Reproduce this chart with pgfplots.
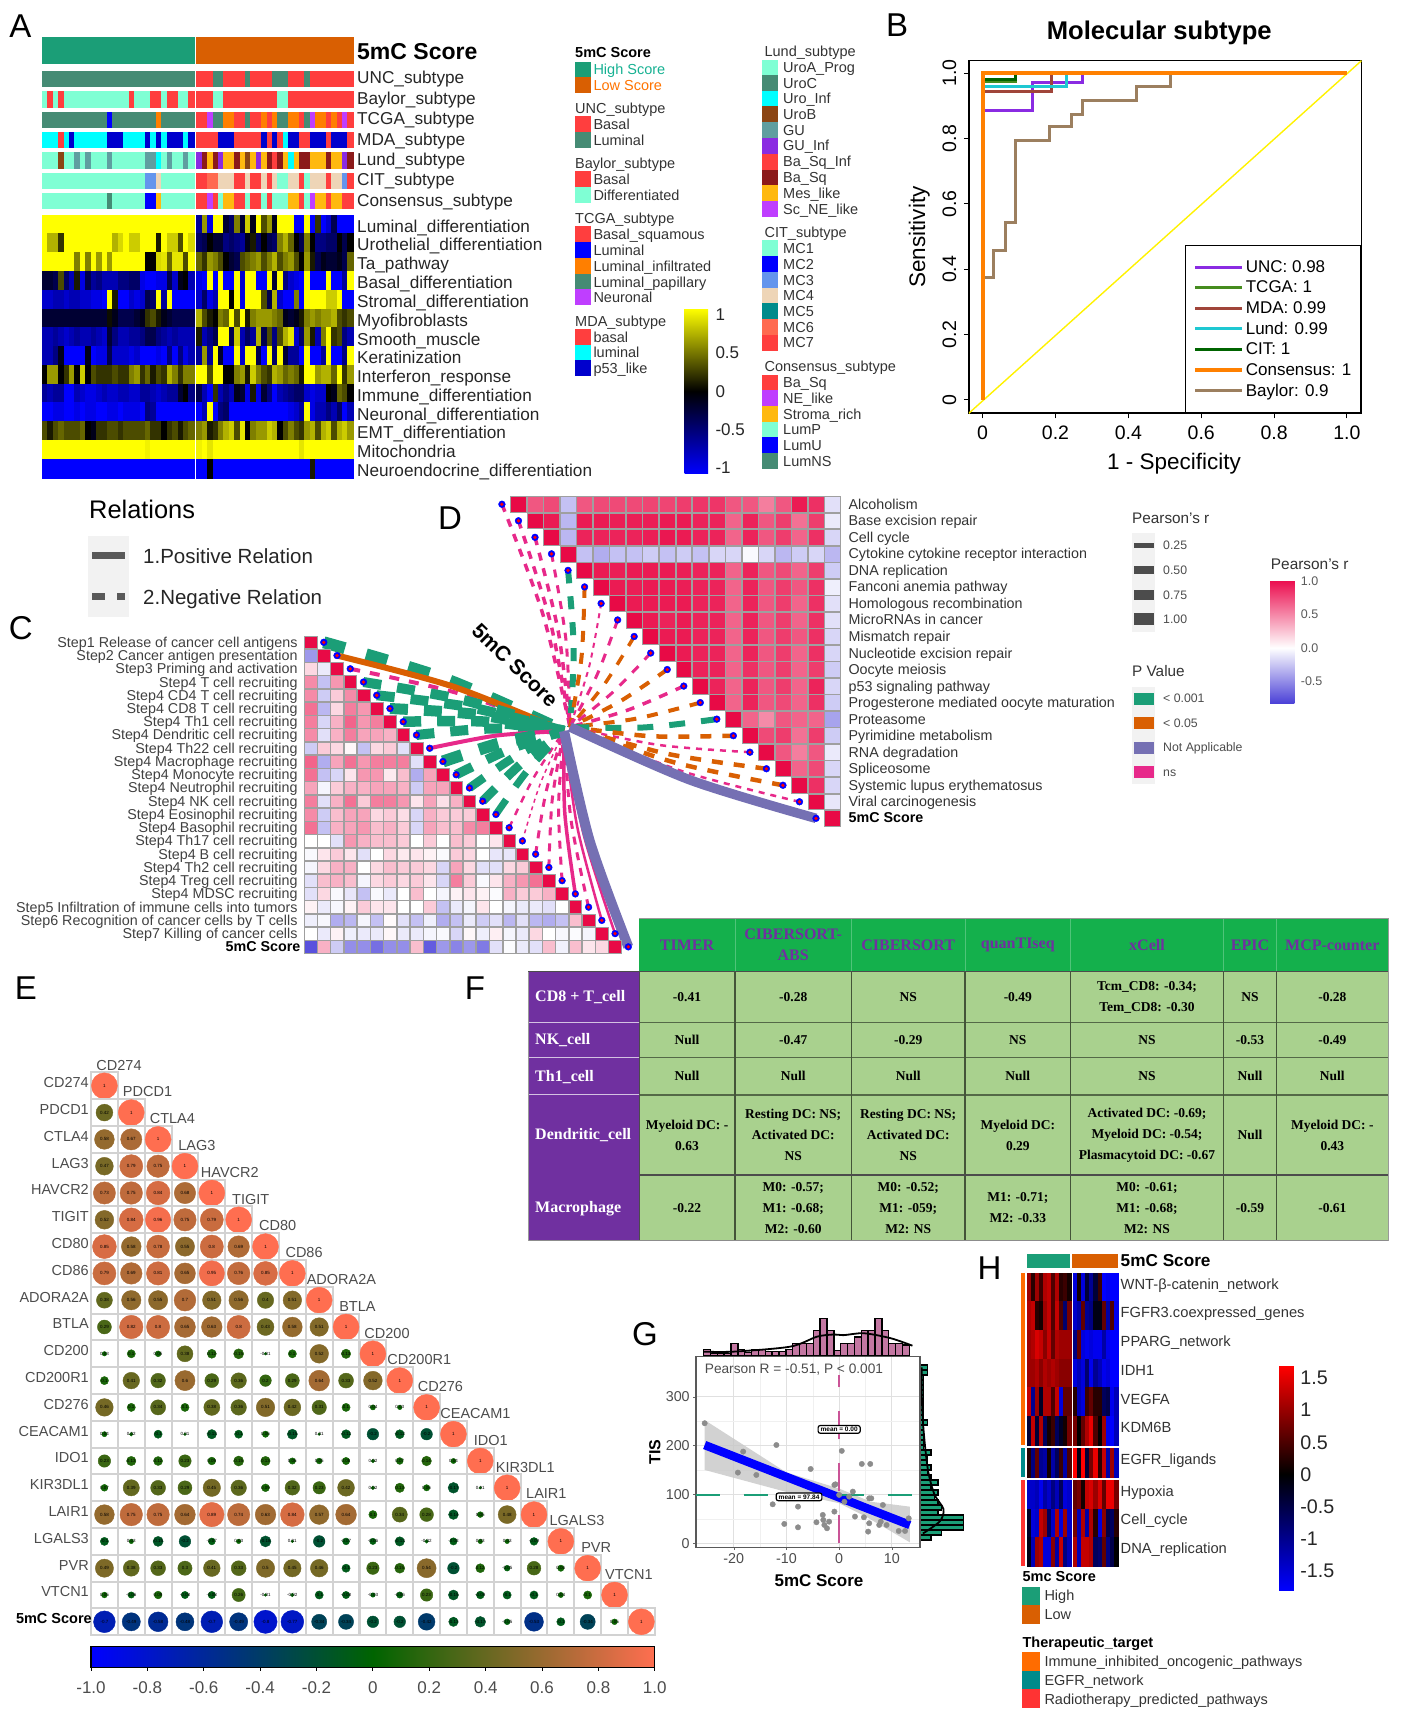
\documentclass[border=0pt]{standalone}
\usepackage{fontspec}
\setmainfont{Liberation Sans}
\newfontfamily\ser{Liberation Serif}
\usepackage{pgfplots}
\pgfplotsset{compat=1.18}
\usetikzlibrary{plotmarks}

% one pixel of the reference = 1pt here
\newcommand\fs[1]{\fontsize{#1}{#1}\selectfont}
\definecolor{grn}{HTML}{1B9E77}
\definecolor{org}{HTML}{D95F02}
\definecolor{prp}{HTML}{7570B3}
\definecolor{pnk}{HTML}{E7298A}
\definecolor{cRed}{HTML}{FF3E3E}
\definecolor{cTeal}{HTML}{458B74}
\definecolor{cAq}{HTML}{7FFFD4}
\definecolor{cBlue}{HTML}{0000FF}
\definecolor{cOr}{HTML}{FF7F00}
\definecolor{cPur}{HTML}{BF3EFF}
\definecolor{cCy}{HTML}{00FFFF}
\definecolor{cNavy}{HTML}{0000CD}
\definecolor{cBr}{HTML}{8B4513}
\definecolor{cGu}{HTML}{5F9EA0}
\definecolor{cVi}{HTML}{8A2BE2}
\definecolor{cDr}{HTML}{8B1A1A}
\definecolor{cGo}{HTML}{FFB90F}
\definecolor{cCo}{HTML}{6495ED}
\definecolor{cBi}{HTML}{EED5B7}
\definecolor{cDc}{HTML}{008B8B}
\definecolor{cCr}{HTML}{FF6A50}
\definecolor{tHead}{HTML}{14B04C}
\definecolor{tPur}{HTML}{7030A0}
\definecolor{tCell}{HTML}{A9D18E}
\definecolor{rMDA}{HTML}{A0453A}
\definecolor{rLund}{HTML}{1EC8D2}
\definecolor{rTCGA}{HTML}{468C1E}
\definecolor{rCIT}{HTML}{006400}
\definecolor{rBay}{HTML}{9C7F5F}

\pgfdeclareplotmark{cA}{\pgfpathrectangle{\pgfpoint{-2.72pt}{-9.4pt}}{\pgfpoint{5.44pt}{18.8pt}}\pgfusepathqfillstroke}
\pgfdeclareplotmark{cS}{\pgfpathrectangle{\pgfpoint{-2.72pt}{-7.65pt}}{\pgfpoint{5.44pt}{15.3pt}}\pgfusepathqfillstroke}
\pgfdeclareplotmark{cT}{\pgfpathrectangle{\pgfpoint{-2.72pt}{-13.15pt}}{\pgfpoint{5.44pt}{26.3pt}}\pgfusepathqfillstroke}
\pgfdeclareplotmark{cH}{\pgfpathrectangle{\pgfpoint{-2pt}{-14.35pt}}{\pgfpoint{4pt}{28.7pt}}\pgfusepathqfillstroke}

\pgfplotsset{
  colormap={cmA}{rgb255=(0,0,255) rgb255=(0,0,0) rgb255=(255,255,0)},
  colormap={cmP}{rgb255(0cm)=(60,50,215) rgb255(1cm)=(255,255,255) rgb255(1.85cm)=(236,35,90) rgb255(2cm)=(232,10,70)},
  colormap={cmPb}{rgb255(0cm)=(75,65,215) rgb255(0.83cm)=(255,255,255) rgb255(1.83cm)=(235,15,80)},
  colormap={cmE}{rgb255=(0,0,255) rgb255=(0,100,0) rgb255=(255,110,80)},
  colormap={cmH}{rgb255(0cm)=(0,0,255) rgb255(1.81cm)=(0,0,0) rgb255(3.5cm)=(255,0,0)},
  % categories: colour k is flat around position k
  colormap={cmS}{
    rgb255(0cm)=(255,62,62) rgb255(0.8cm)=(255,62,62)
    rgb255(1cm)=(69,139,116) rgb255(1.8cm)=(69,139,116)
    rgb255(2cm)=(127,255,212) rgb255(2.8cm)=(127,255,212)
    rgb255(3cm)=(0,0,255) rgb255(3.8cm)=(0,0,255)
    rgb255(4cm)=(255,127,0) rgb255(4.8cm)=(255,127,0)
    rgb255(5cm)=(191,62,255) rgb255(5.8cm)=(191,62,255)
    rgb255(6cm)=(0,255,255) rgb255(6.8cm)=(0,255,255)
    rgb255(7cm)=(0,0,205) rgb255(7.8cm)=(0,0,205)
    rgb255(8cm)=(139,69,19) rgb255(8.8cm)=(139,69,19)
    rgb255(9cm)=(95,158,160) rgb255(9.8cm)=(95,158,160)
    rgb255(10cm)=(138,43,226) rgb255(10.8cm)=(138,43,226)
    rgb255(11cm)=(139,26,26) rgb255(11.8cm)=(139,26,26)
    rgb255(12cm)=(255,185,15) rgb255(12.8cm)=(255,185,15)
    rgb255(13cm)=(100,149,237) rgb255(13.8cm)=(100,149,237)
    rgb255(14cm)=(238,213,183) rgb255(14.8cm)=(238,213,183)
    rgb255(15cm)=(0,139,139) rgb255(15.8cm)=(0,139,139)
    rgb255(16cm)=(255,106,80) rgb255(16.8cm)=(255,106,80)
    rgb255(17cm)=(27,158,119) rgb255(17.8cm)=(27,158,119)
    rgb255(18cm)=(217,95,2) rgb255(18.8cm)=(217,95,2)},
  box/.style n args={4}{at={(#1pt,1726pt-#2pt-#4pt)},anchor=south west,scale only axis,width=#3pt,height=#4pt},
  canvas/.style={box={0}{0}{1401}{1726},xmin=0,xmax=1401,ymin=0,ymax=1726,y dir=reverse,hide axis,clip=false},
  heat/.style={scatter,only marks,point meta=explicit,
    scatter/use mapped color={draw=mapped color,fill=mapped color},line width=.2pt},
  hmA/.style={heat,mark=cA},
  hmS/.style={heat,mark=cS},
  hmT/.style={heat,mark=cT},
  hmH/.style={heat,mark=cH},
  tri/.style={scatter,only marks,point meta=explicit,mark=square*,mark size=#1,
    scatter/use mapped color={draw=gray!75,fill=mapped color},line width=.6pt},
  gridE/.style={only marks,point meta=explicit,mark=square,mark size=13.4pt,
    mark options={draw=gray!35,line width=2pt}},
  bub/.style={scatter,only marks,point meta=explicit,mark=*,
    scatter/@pre marker code/.code={%
      \pgfplotscolormapdefinemappedcolor{\pgfplotspointmetatransformed}%
      \pgfmathsetmacro\rad{13*sqrt(abs(\pgfplotspointmetatransformed/500-1))}%
      \scope[mark size=\rad pt,draw=mapped color,fill=mapped color]},
    scatter/@post marker code/.code={\endscope}},
  lab/.style={only marks,point meta=explicit,nodes near coords,
    every node near coord/.append style={anchor=center,inner sep=0pt,font=\fs{4.5},text=black}},
}

\newcount\cc
% one row of a heat map: style, first column, row, values
\newcommand\cells[4]{%
  \def\pts{}\cc=#2\relax
  \pgfplotsforeachungrouped\v in {#4}{\edef\pts{\pts(\the\cc,#3)[\v]}\advance\cc by 1\relax}%
  \edef\tmp{\noexpand\addplot[#1] coordinates {\pts};}\tmp}

% text: x, y of its middle, anchor, size, text
\newcommand\tx[5]{\node[anchor=#3,inner sep=0pt,font=\fs{#4}] at ({(#1)*1pt},{1726pt-(#2)*1pt-0.35*(#4)*1pt}) {#5};}
\newcommand\sw[5]{\fill[#5] ({(#1)*1pt},{1726pt-(#2)*1pt}) rectangle ++({(#3)*1pt},{-(#4)*1pt});}
\newcommand\lgA[3]{\sw{575}{#1-7.85}{15.6}{15.7}{#2}\tx{593.3}{#1}{base west}{14.5}{\color{black!80}#3}}
\newcommand\lgB[3]{\sw{762}{#1-7.85}{15.6}{15.7}{#2}\tx{783}{#1}{base west}{14.5}{\color{black!80}#3}}
% curved link of panels C and D: style, from, to, bend
\newcommand\lnk[6]{%
  \pgfmathsetmacro\mx{(#2+#4)/2+#6*(#5-#3)}\pgfmathsetmacro\my{(#3+#5)/2-#6*(#4-#2)}%
  \addplot[smooth,line cap=butt,#1] coordinates {(#2,#3) (\mx,\my) (#4,#5)};}
\newcommand\clink[2]{\pgfmathsetmacro\xa{303.9+13.24*(#1+1.5)}\pgfmathsetmacro\ya{635.7+13.24*(#1+.5)}\lnk{#2}{\xa}{\ya}{564}{731}{0.03}}
\newcommand\dlink[2]{\pgfmathsetmacro\xa{510.2+16.53*(#1-.5)}\pgfmathsetmacro\ya{496+16.53*(#1+.5)}\lnk{#2}{\xa}{\ya}{570}{727}{0.03}}
% stand-alone colour bar
\newcommand\cbar[6]{%
  \begin{axis}[box={#1}{#2}{1}{1},hide axis,xmin=0,xmax=1,ymin=0,ymax=1,colormap name=#3,
    point meta min=#4,point meta max=#5,colorbar,#6]
  \addplot[draw=none,forget plot] coordinates {(0,0)};
  \end{axis}}
\newcommand\tc[3]{\node[align=center,inner sep=0pt,font=\ser\bfseries\fontsize{13.5}{21}\selectfont,text=black] at ({(#1)*1pt},{1726pt-(#2)*1pt}) {#3};}
\newcommand\Ln[5]{\draw[#5] ({(#1)*1pt},{1726pt-(#2)*1pt}) -- ({(#3)*1pt},{1726pt-(#4)*1pt});}

\begin{document}
\begin{tikzpicture}
\useasboundingbox (0,0) rectangle (1401pt,1726pt);

% ---------- panel letters
\tx{20.5}{26}{base}{33}{A}\tx{897}{25}{base}{33}{B}\tx{20.7}{628}{base}{33}{C}\tx{450}{518}{base}{33}{D}
\tx{26}{988}{base}{33}{E}\tx{475}{988}{base}{33}{F}\tx{645}{1334}{base}{33}{G}\tx{989.5}{1268}{base}{33}{H}

% ---------- A annotation strips
\begin{axis}[box={42}{37}{152}{171.3},xmin=-.5,xmax=27.5,ymin=37,ymax=208.3,y dir=reverse,hide axis,clip=false,
  colormap name=cmS,point meta min=-.4,point meta max=18.4]
\cells{hmT}{0}{50.15}{17,17,17,17,17,17,17,17,17,17,17,17,17,17,17,17,17,17,17,17,17,17,17,17,17,17,17,17}
\cells{hmS}{0}{78.65}{1,1,1,1,1,1,1,1,1,1,1,1,1,1,1,1,1,1,1,1,1,1,1,1,1,1,1,1}
\cells{hmS}{0}{99}{2,0,2,0,2,2,2,2,2,2,2,2,2,2,2,2,0,2,2,2,0,0,2,0,0,2,2,0}
\cells{hmS}{0}{119.35}{1,1,1,1,1,1,1,1,1,1,1,1,3,1,1,1,1,1,1,1,1,4,1,1,1,1,1,1}
\cells{hmS}{0}{139.65}{6,6,6,0,6,7,6,6,6,6,6,6,7,7,7,6,6,6,6,7,6,7,6,7,7,7,6,7}
\cells{hmS}{0}{160}{2,2,2,8,2,2,9,2,9,2,2,2,9,2,2,2,2,2,2,9,9,6,2,9,2,2,9,2}
\cells{hmS}{0}{180.35}{2,2,2,2,2,2,2,2,2,2,2,2,2,2,2,2,2,2,2,13,13,14,2,2,2,2,2,2}
\cells{hmS}{0}{200.65}{2,2,2,2,2,2,2,2,2,2,2,2,1,2,2,2,2,2,2,3,3,12,2,2,2,2,2,2}
\end{axis}
\begin{axis}[box={196.5}{37}{156.5}{171.3},xmin=-.5,xmax=28.5,ymin=37,ymax=208.3,y dir=reverse,hide axis,clip=false,
  colormap name=cmS,point meta min=-.4,point meta max=18.4]
\cells{hmT}{0}{50.15}{18,18,18,18,18,18,18,18,18,18,18,18,18,18,18,18,18,18,18,18,18,18,18,18,18,18,18,18,18}
\cells{hmS}{0}{78.65}{0,0,0,1,1,0,0,0,0,1,0,0,0,0,1,1,1,0,0,0,1,0,0,0,0,0,0,0,0}
\cells{hmS}{0}{99}{0,0,0,2,2,0,0,0,0,0,0,0,0,0,0,2,2,0,0,0,0,0,0,0,0,0,0,0,0}
\cells{hmS}{0}{119.35}{0,0,5,1,1,4,4,0,0,1,0,0,4,0,4,1,1,4,4,0,1,5,4,4,0,4,0,5,0}
\cells{hmS}{0}{139.65}{0,0,0,0,7,7,7,0,0,0,0,0,7,0,7,0,6,7,7,0,0,7,7,7,0,7,7,7,0}
\cells{hmS}{0}{160}{10,11,12,11,10,12,12,11,12,8,12,10,12,11,0,11,12,6,12,11,11,12,12,12,11,12,12,10,11}
\cells{hmS}{0}{180.35}{0,0,16,16,14,14,14,0,0,14,0,0,14,0,14,2,2,14,14,0,2,14,14,14,0,14,14,13,0}
\cells{hmS}{0}{200.65}{0,0,5,0,2,12,12,0,0,2,0,0,2,0,2,2,2,12,12,0,2,5,12,12,0,12,12,0,0}
\end{axis}

% ---------- A heat map
\begin{axis}[box={42}{214.7}{152}{263},xmin=-.5,xmax=27.5,ymin=-.5,ymax=13.5,y dir=reverse,hide axis,clip=false,
  colormap name=cmA,point meta min=-1,point meta max=1]
\cells{hmA}{0}{0}{1,1,1,1,1,1,1,1,1,1,1,1,1,1,1,1,1,1,1,1,1,1,1,1,1,1,1,1}
\cells{hmA}{0}{1}{1,.7,.7,.2,1,1,1,1,1,1,1,1,1,.7,.85,1,.8,.8,1,1,1,.1,1,.8,.8,.3,1,.85}
\cells{hmA}{0}{2}{1,1,1,1,1,1,.5,1,.5,1,.6,1,.6,1,1,1,1,1,1,0,0,.85,.9,.4,.9,.9,.3,1}
\cells{hmA}{0}{3}{-.2,-.2,-.3,.3,-.4,-.7,.1,-.9,-.3,-.6,-.5,-.7,-.7,-.7,-.5,-.5,-.4,-.4,-.9,-1,-1,-.9,-.9,-.3,-.8,-.1,0,-.7}
\cells{hmA}{0}{4}{-.8,-.8,-.7,-.7,-.8,-.7,-.7,-.8,-.8,-.9,-.9,-1,1,.1,-1,-1,-.8,-.9,-.8,-.3,-.4,1,-.6,1,-1,-1,-1,-1}
\cells{hmA}{0}{5}{-.2,-.2,-.2,-.2,-.2,-.2,-.2,-.2,-.2,-.2,-.2,-.2,.05,-.1,-.3,-.3,-.3,-.2,-.1,.2,.3,.1,-.1,-.2,-.3,-.3,-.3,-.3}
\cells{hmA}{0}{6}{-.7,-.7,-.6,-.7,-.8,-.7,-.6,-.7,-.7,-.6,-.7,-.8,-.2,-.5,-.7,-.7,-.6,-.6,-.5,-.3,-.3,-.5,-.6,-.7,-.6,-.7,-.7,-.7}
\cells{hmA}{0}{7}{-.7,-.7,-.5,-.1,-1,-1,-1,-1,-.1,-1,-.9,-.9,-.3,-.8,-.8,-.8,-.9,-.8,-1,-1,-1,-.9,-1,-.5,-1,-.5,-.9,-.7}
\cells{hmA}{0}{8}{0,.6,.6,0,.2,.6,0,.8,0,.3,.2,.2,.2,.3,.2,.2,.5,.6,.2,.4,.1,.3,.2,.7,.5,.2,.5,.5}
\cells{hmA}{0}{9}{-.6,-.7,-.6,-.6,-1,-1,-.7,-.8,-.9,-.9,-.8,-.7,-.8,-.8,-.7,-.7,-.8,-.8,-.6,-.6,-.7,-.8,-.7,-.6,-.6,-.2,0,-.5}
\cells{hmA}{0}{10}{-1,-1,-.9,-.9,-1,-1,-.9,-1,-.9,-.9,-1,-1,-.9,-.9,-1,-.9,-.9,-.9,-1,-.5,-.6,-1,-1,-1,-1,-1,-1,-1}
\cells{hmA}{0}{11}{.3,.1,.3,.4,.3,.3,.3,.4,0,-.1,.2,.2,.3,.3,.2,.3,.3,.3,.3,.4,.2,.2,0,.2,.3,.1,.3,.4}
\cells{hmA}{0}{12}{1,1,1,1,1,1,1,1,1,1,1,1,1,1,1,1,1,1,1,.95,1,1,1,1,1,1,1,1}
\cells{hmA}{0}{13}{-1,-1,-1,-1,-1,-1,-1,-1,-1,-1,-1,-1,-1,-1,-1,-1,-1,-1,-1,-1,-1,-1,-1,-1,-1,-1,-1,-1}
\end{axis}
\begin{axis}[box={196.5}{214.7}{156.5}{263},xmin=-.5,xmax=28.5,ymin=-.5,ymax=13.5,y dir=reverse,hide axis,clip=false,
  colormap name=cmA,point meta min=-1,point meta max=1]
\cells{hmA}{0}{0}{-.6,.6,-.9,1,1,-.2,-.4,.5,-.2,.8,-.1,1,.3,.6,-.1,1,1,1,-1,-1,1,-1,.2,-1,-.8,-.3,-1,-1,-1}
\cells{hmA}{0}{1}{-.4,-.3,0,-.2,-.2,-.5,-.4,-.5,-.6,-.1,.1,-.4,0,-.3,-.4,.5,.7,.4,0,-.3,.5,0,-.5,-.5,-.4,-.4,0,-.3,0}
\cells{hmA}{0}{2}{.4,.2,.6,.5,.3,0,-.2,-.3,.3,.4,.5,.6,.3,.5,.7,.3,.5,.6,.3,0,.6,.1,-.3,-.1,-.2,-.2,-.1,-.3,.4}
\cells{hmA}{0}{3}{-.9,-1,1,-1,1,-1,-1,1,-.8,1,1,-1,-1,1,-.2,1,-.5,-.8,-.9,-1,1,-1,-1,-1,1,-1,-1,-.6,1}
\cells{hmA}{0}{4}{-.8,-.4,-.9,-.7,1,1,0,1,-.9,1,1,1,.3,-.3,.7,-.8,-1,-1,.5,-1,1,1,1,1,.8,.8,1,-1,-1}
\cells{hmA}{0}{5}{.7,.3,.1,0,.5,.4,1,.3,1,.1,.5,.6,.6,.6,.5,.4,-.1,-.2,-.1,.1,.5,.6,.5,.6,.6,.7,.3,.2,.3}
\cells{hmA}{0}{6}{.1,-.7,-.5,-.3,1,1,-.3,.8,-.7,-.4,-.6,.7,-.3,.3,-.5,.3,.7,.9,-.8,-.4,.6,.1,-.7,.5,1,.2,.3,-.5,-.7}
\cells{hmA}{0}{7}{-.6,.6,-.6,1,-.2,-1,-1,1,-.8,1,1,-.3,-1,1,-.4,1,-.2,-.6,-.6,-1,1,-1,-1,-.6,1,-1,-1,-.5,1}
\cells{hmA}{0}{8}{1,1,.3,1,1,0,0,.5,.6,.1,.8,.5,.3,.2,.7,.6,.4,.5,.4,.1,1,1,.6,.7,.7,.4,1,.2,.6}
\cells{hmA}{0}{9}{-.3,-.7,-1,.2,-.7,-.5,-.7,-.1,-.2,-.9,.1,-.9,-.2,-.5,-1,-.7,-.6,-.5,-.4,-.4,-.8,-.9,-.8,-.8,0,-.1,.4,.3,0}
\cells{hmA}{0}{10}{-1,-.7,1,-1,-.5,-.4,-1,-1,-1,-1,-1,-1,-1,-1,-1,-1,-1,-.9,-.8,-.6,1,-.9,-.7,-.7,-.5,-.7,-.4,-1,-.7}
\cells{hmA}{0}{11}{.5,.6,.1,.2,.5,.7,.8,.3,.9,0,.5,.6,.6,.8,.7,0,.3,.5,.3,.2,.6,.7,.3,.7,.8,.3,.7,.8,.6}
\cells{hmA}{0}{12}{.95,1,.9,1,1,1,1,1,1,1,1,1,1,1,1,1,1,1,1,.9,1,1,1,1,1,1,1,1,1}
\cells{hmA}{0}{13}{-1,-1,0,-1,-1,-1,-1,-1,-1,-1,-1,-1,-1,-1,-1,-1,-1,-1,-1,-1,-1,.1,-1,-1,-1,-1,-1,-1,-1}
\end{axis}

\tx{357}{51}{base west}{23}{\bfseries 5mC Score}
\foreach \y/\t in {78/UNC,99/Baylor,119/TCGA,139.5/MDA,160/Lund,180/CIT,200.5/Consensus}{\tx{357}{\y}{base west}{17.2}{\color{black!85}\t\_subtype}}
\foreach \y/\t in {226.7/Luminal\_differentiation,245/Urothelial\_differentiation,264/Ta\_pathway,282.7/Basal\_differentiation,301.3/Stromal\_differentiation,320.3/Myofibroblasts,339/Smooth\_muscle,357.7/Keratinization,376.7/Interferon\_response,395.3/Immune\_differentiation,414/Neuronal\_differentiation,432.7/EMT\_differentiation,451.7/Mitochondria,470.7/Neuroendocrine\_differentiation}{\tx{357}{\y}{base west}{17.2}{\color{black!85}\t}}

% legends of A
\tx{575}{52.7}{base west}{14.5}{\bfseries 5mC Score}
\lgA{69.5}{grn}{\color{grn!80!cyan}High Score}\lgA{85.3}{org}{\color{orange!90!red}Low Score}
\tx{575}{108}{base west}{14.5}{\color{black!80}UNC\_subtype}
\lgA{124.3}{cRed}{Basal}\lgA{140}{cTeal}{Luminal}
\tx{575}{163.3}{base west}{14.5}{\color{black!80}Baylor\_subtype}
\lgA{179.3}{cRed}{Basal}\lgA{195}{cAq}{Differentiated}
\tx{575}{218.7}{base west}{14.5}{\color{black!80}TCGA\_subtype}
\lgA{234.3}{cRed}{Basal\_squamous}\lgA{250}{cBlue}{Luminal}\lgA{266}{cOr}{Luminal\_infiltrated}\lgA{282}{cTeal}{Luminal\_papillary}\lgA{297.3}{cPur}{Neuronal}
\tx{575}{321.3}{base west}{14.5}{\color{black!80}MDA\_subtype}
\lgA{337}{cRed}{basal}\lgA{352.7}{cCy}{luminal}\lgA{368.3}{cNavy}{p53\_like}
\tx{764.4}{51.7}{base west}{14.5}{\color{black!80}Lund\_subtype}
\lgB{67.7}{cAq}{UroA\_Prog}\lgB{83}{cTeal}{UroC}\lgB{98.7}{cCy}{Uro\_Inf}\lgB{114.3}{cBr}{UroB}\lgB{130}{cGu}{GU}\lgB{145.7}{cVi}{GU\_Inf}\lgB{161.7}{cRed}{Ba\_Sq\_Inf}\lgB{177.7}{cDr}{Ba\_Sq}\lgB{193.3}{cGo}{Mes\_like}\lgB{209}{cPur}{Sc\_NE\_like}
\tx{764.4}{232.7}{base west}{14.5}{\color{black!80}CIT\_subtype}
\lgB{248.3}{cAq}{MC1}\lgB{264.3}{cBlue}{MC2}\lgB{280}{cCo}{MC3}\lgB{295.7}{cBi}{MC4}\lgB{311.3}{cDc}{MC5}\lgB{327}{cCr}{MC6}\lgB{342.7}{cRed}{MC7}
\tx{764.4}{366.7}{base west}{14.5}{\color{black!80}Consensus\_subtype}
\lgB{382.7}{cRed}{Ba\_Sq}\lgB{398.3}{cPur}{NE\_like}\lgB{414}{cGo}{Stroma\_rich}\lgB{429.7}{cAq}{LumP}\lgB{445.3}{cBlue}{LumU}\lgB{461.3}{cTeal}{LumNS}

\cbar{684.5}{472.7}{cmA}{-1.08}{1.08}{colorbar/width=23.5pt,colorbar style={at={(parent axis.south west)},anchor=south west,xshift=-8.536pt,
  scale only axis,width=23.5pt,height=165pt,ytick={-1,-.5,0,.5,1},yticklabels={-1,-0.5,0,0.5,1},
  yticklabel style={font=\fs{17},text=black!85,anchor=west,xshift=4pt},tick style={draw=none},axis line style={draw=none}}}

% ---------- B
\begin{axis}[box={968.8}{60.7}{392.7}{352.6},xmin=-.038,xmax=1.04,ymin=-.0407,ymax=1.0386,
  axis line style={line width=1.6pt},
  xtick={0,.2,.4,.6,.8,1},xticklabels={0,0.2,0.4,0.6,0.8,1.0},
  ytick={0,.2,.4,.6,.8,1},yticklabels={0,0.2,0.4,0.6,0.8,1.0},
  tick align=outside,xtick pos=bottom,ytick pos=left,major tick length=5pt,tick style={line width=1pt,black},
  xticklabel style={font=\fs{19.5},yshift=-4.5pt},
  yticklabel style={font=\fs{19.5},rotate=90,anchor=south,xshift=0pt,yshift=4pt},
  title={Molecular subtype},title style={font=\fs{25.6}\bfseries,at={(axis description cs:.485,1.082)},anchor=center,yshift=-7.5pt},
  xlabel={1 - Specificity},xlabel style={font=\fs{22.5},at={(axis description cs:.5225,-.14)},anchor=center,yshift=-1.5pt},
  ylabel={Sensitivity},ylabel style={font=\fs{22.5},at={(axis description cs:-.126,.5)},anchor=center},
  legend image code/.code={\path (-14pt,0pt) -- (0pt,0pt);\draw[#1] (0pt,0pt) -- (33pt,0pt);},
  legend style={at={(1,0)},anchor=south east,draw=black,line width=1.3pt,font=\fs{17},row sep=4.1pt,
    inner xsep=8pt,inner ysep=13.4pt,cells={anchor=west},nodes={inner sep=1.5pt}},
]
\addplot[yellow,line width=1.4pt,forget plot] coordinates {(-.038,-.0407) (1.04,1.0386)};
\addplot[cVi,line width=3pt] coordinates {(0,.885) (.138,.885) (.138,.972) (.275,.972) (.275,1) (1,1)};
\addlegendentry{UNC: 0.98}
\addplot[rTCGA,line width=3pt] coordinates {(0,.975) (.09,.975) (.09,1) (1,1)};
\addlegendentry{TCGA: 1}
\addplot[rMDA,line width=3pt] coordinates {(0,.945) (.19,.945) (.19,1) (1,1)};
\addlegendentry{MDA: 0.99}
\addplot[rLund,line width=3pt] coordinates {(0,.96) (.23,.96) (.23,1) (1,1)};
\addlegendentry{Lund: 0.99}
\addplot[rCIT,line width=3pt] coordinates {(0,.98) (.09,.98) (.09,1) (1,1)};
\addlegendentry{CIT: 1}
\addplot[rBay,line width=3pt,forget plot] coordinates {(0,.374) (.03,.374) (.03,.459) (.062,.459) (.062,.544) (.09,.544) (.09,.793) (.184,.793) (.184,.836) (.243,.836) (.243,.874) (.275,.874) (.275,.918) (.422,.918) (.422,.959) (.515,.959) (.515,1) (1,1)};
\addplot[orange,line width=4pt] coordinates {(0,0) (0,1) (1,1)};
\addlegendentry{Consensus: 1}
\addlegendimage{rBay,line width=3pt}
\addlegendentry{Baylor: 0.9}
\end{axis}

% ---------- Relations
\tx{89}{510}{base west}{25.4}{Relations}
\sw{88}{535.7}{40.5}{81}{black!5}
\Ln{92}{555.7}{125}{555.7}{black!65,line width=6.5pt}
\Ln{92}{596.7}{125}{596.7}{black!65,line width=6.5pt,dash pattern=on 12.5pt off 12.5pt}
\tx{143}{556.7}{base west}{20.5}{\color{black!85}1.Positive Relation}
\tx{143}{597.7}{base west}{20.5}{\color{black!85}2.Negative Relation}

% ---------- links of C and D
\begin{axis}[canvas]
\dlink{0}{pnk,line width=3.5pt,dash pattern=on 8pt off 8pt}
\dlink{1}{pnk,line width=3.5pt,dash pattern=on 8pt off 8pt}
\dlink{2}{pnk,line width=3.5pt,dash pattern=on 8pt off 8pt}
\dlink{3}{pnk,line width=3pt,dash pattern=on 8pt off 8pt}
\dlink{4}{grn,line width=6pt,dash pattern=on 13pt off 13pt}
\dlink{5}{org,line width=4pt,dash pattern=on 11pt off 11pt}
\dlink{6}{pnk,line width=2pt,dash pattern=on 5pt off 5pt}
\dlink{7}{pnk,line width=3pt,dash pattern=on 9pt off 9pt}
\dlink{8}{org,line width=3.5pt,dash pattern=on 11pt off 11pt}
\dlink{9}{pnk,line width=3pt,dash pattern=on 9pt off 9pt}
\dlink{10}{org,line width=4pt,dash pattern=on 11pt off 11pt}
\dlink{11}{pnk,line width=3.5pt,dash pattern=on 9pt off 9pt}
\dlink{12}{org,line width=4pt,dash pattern=on 11pt off 11pt}
\dlink{13}{grn,line width=6pt,dash pattern=on 16pt off 16pt}
\dlink{14}{org,line width=4.5pt,dash pattern=on 11pt off 11pt}
\dlink{15}{pnk,line width=2.5pt,dash pattern=on 6pt off 6pt}
\dlink{16}{org,line width=4.5pt,dash pattern=on 11pt off 11pt}
\dlink{17}{org,line width=4.5pt,dash pattern=on 11pt off 11pt}
\dlink{18}{pnk,line width=2.5pt,dash pattern=on 6pt off 6pt}
\dlink{19}{prp,line width=9.5pt}
\clink{2}{pnk,line width=4pt,dash pattern=on 10pt off 10pt}
\clink{14}{pnk,line width=2.5pt,dash pattern=on 7pt off 7pt}
\clink{15}{pnk,line width=1.5pt,dash pattern=on 4pt off 4pt}
\clink{16}{pnk,line width=3pt,dash pattern=on 8pt off 8pt}
\clink{17}{pnk,line width=3pt,dash pattern=on 8pt off 8pt}
\clink{18}{pnk,line width=3pt,dash pattern=on 8pt off 8pt}
\clink{19}{pnk,line width=3.5pt}
\clink{20}{pnk,line width=3pt,dash pattern=on 8pt off 8pt}
\clink{21}{pnk,line width=2.5pt}
\clink{22}{pnk,line width=2.5pt}
\clink{0}{grn,line width=12pt,dash pattern=on 22pt off 22pt}
\clink{1}{org,line width=6pt}
\clink{3}{grn,line width=10pt,dash pattern=on 18pt off 16pt}
\clink{4}{grn,line width=10pt,dash pattern=on 18pt off 16pt}
\clink{5}{grn,line width=11pt,dash pattern=on 18pt off 16pt}
\clink{6}{grn,line width=10.5pt,dash pattern=on 18pt off 16pt}
\clink{7}{grn,line width=10pt,dash pattern=on 18pt off 16pt}
\clink{8}{pnk,line width=4pt}
\clink{9}{grn,line width=12pt,dash pattern=on 20pt off 18pt}
\clink{10}{grn,line width=9.5pt,dash pattern=on 18pt off 16pt}
\clink{11}{grn,line width=8.5pt,dash pattern=on 18pt off 16pt}
\clink{12}{grn,line width=9pt,dash pattern=on 18pt off 16pt}
\clink{13}{grn,line width=7pt,dash pattern=on 18pt off 16pt}
\clink{23}{prp,line width=10pt}
\end{axis}

% ---------- C
\begin{axis}[box={303.9}{635.7}{317.8}{317.8},xmin=-.5,xmax=23.5,ymin=-.5,ymax=23.5,y dir=reverse,hide axis,clip=false,
  colormap name=cmP,point meta min=-1,point meta max=1]
\cells{tri=6.35pt}{0}{0}{1}
\cells{tri=6.35pt}{0}{1}{-.5,1}
\cells{tri=6.35pt}{0}{2}{.15,-.1,1}
\cells{tri=6.35pt}{0}{3}{.45,-.3,.4,1}
\cells{tri=6.35pt}{0}{4}{.45,-.25,.2,.45,1}
\cells{tri=6.35pt}{0}{5}{.55,-.35,.15,.5,.4,1}
\cells{tri=6.35pt}{0}{6}{.5,-.2,.3,.6,.4,.5,1}
\cells{tri=6.35pt}{0}{7}{.45,-.15,.3,.5,.35,.35,.3,1}
\cells{tri=6.35pt}{0}{8}{-.25,.2,.15,.03,-.3,.15,.2,-.15,1}
\cells{tri=6.35pt}{0}{9}{.6,-.4,.35,.55,.4,.5,.5,.5,-.15,1}
\cells{tri=6.35pt}{0}{10}{.55,-.3,-.2,.1,.4,.4,.08,.25,-.4,.35,1}
\cells{tri=6.35pt}{0}{11}{.35,-.05,.2,.3,.3,.35,.35,.3,-.25,.35,.35,1}
\cells{tri=6.35pt}{0}{12}{.5,-.15,.3,.55,.2,.5,.5,.4,.1,.35,.12,.3,1}
\cells{tri=6.35pt}{0}{13}{.45,-.25,.25,.35,.35,.15,.2,.13,-.2,.3,.2,.2,.2,1}
\cells{tri=6.35pt}{0}{14}{.55,-.3,.3,.35,.4,.25,.3,.2,-.2,.35,.25,.25,.45,.5,1}
\cells{tri=6.35pt}{0}{15}{0,0,-.15,.4,.3,.25,.25,.2,0,.2,0,.25,.2,0,.1,1}
\cells{tri=6.35pt}{0}{16}{-.03,.1,.2,.1,-.15,0,.15,.08,.1,.05,-.02,.2,.15,0,-.12,-.12,1}
\cells{tri=6.35pt}{0}{17}{-.05,.15,.3,.3,0,.15,.25,.2,.2,.15,-.2,.35,.15,-.15,-.15,.15,.2,1}
\cells{tri=6.35pt}{0}{18}{-.15,.25,.3,.25,-.05,.15,.2,.15,.2,.1,-.2,.5,.2,-.03,.1,.3,.4,.55,1}
\cells{tri=6.35pt}{0}{19}{-.15,.15,-.03,-.12,-.3,-.03,-.1,0,.25,0,-.05,.05,.1,.05,-.02,.3,.2,.2,.3,1}
\cells{tri=6.35pt}{0}{20}{.05,-.1,-.04,.05,.2,.1,.1,0,0,.2,-.3,-.1,-.05,.1,0,-.05,-.1,-.1,-.15,0,1}
\cells{tri=6.35pt}{0}{21}{-.08,-.04,-.4,-.35,-.05,-.3,.02,-.15,-.3,-.08,-.4,-.3,-.1,-.25,-.15,-.35,-.15,-.35,-.4,-.3,.25,1}
\cells{tri=6.35pt}{0}{22}{0,-.1,.05,-.08,-.1,-.1,.03,-.1,-.1,-.05,-.03,-.2,.03,-.08,.06,-.05,-.1,.15,0,-.04,-.02,-.05,1}
\cells{tri=6.35pt}{0}{23}{-.85,.3,-.25,-.55,-.55,-.7,-.55,-.55,.25,-.8,-.5,-.6,-.5,-.65,-.15,-.02,-.1,-.15,.25,-.07,.25,.1,.15,1}
\addplot[only marks,mark=*,mark size=3.4pt,blue] coordinates {(1,0)(2,1)(3,2)(4,3)(5,4)(6,5)(7,6)(8,7)(9,8)(10,9)(11,10)(12,11)(13,12)(14,13)(15,14)(16,15)(17,16)(18,17)(19,18)(20,19)(21,20)(22,21)(23,22)(24,23)};
\addplot[only marks,mark=*,mark size=1.5pt,red] coordinates {(1,0)(2,1)(3,2)(4,3)(5,4)(6,5)(7,6)(8,7)(9,8)(10,9)(11,10)(12,11)(13,12)(14,13)(15,14)(16,15)(17,16)(18,17)(19,18)(20,19)(21,20)(22,21)(23,22)(24,23)};
\end{axis}
\foreach \i/\t in {0/Step1 Release of cancer cell antigens,1/Step2 Cancer antigen presentation,2/Step3 Priming and activation,3/Step4 T cell recruiting,4/Step4 CD4 T cell recruiting,5/Step4 CD8 T cell recruiting,6/Step4 Th1 cell recruiting,7/Step4 Dendritic cell recruiting,8/Step4 Th22 cell recruiting,9/Step4 Macrophage recruiting,10/Step4 Monocyte recruiting,11/Step4 Neutrophil recruiting,12/Step4 NK cell recruiting,13/Step4 Eosinophil recruiting,14/Step4 Basophil recruiting,15/Step4 Th17 cell recruiting,16/Step4 B cell recruiting,17/Step4 Th2 cell recruiting,18/Step4 Treg cell recruiting,19/Step4 MDSC recruiting,20/Step5 Infiltration of immune cells into tumors,21/Step6 Recognition of cancer cells by T cells,22/Step7 Killing of cancer cells}{\tx{297.7}{635.7+13.24*(\i+.5)}{base east}{14.3}{\color{black!75}\t}}
\tx{300.5}{946.7}{base east}{14.3}{\bfseries 5mC Score}
\node[rotate=-44,inner sep=0pt,font=\fs{21}\bfseries] at (515pt,{1726pt-665pt}) {5mC Score};

% ---------- D
\begin{axis}[box={510.2}{496}{330.6}{330.6},xmin=-.5,xmax=19.5,ymin=-.5,ymax=19.5,y dir=reverse,hide axis,clip=false,
  colormap name=cmP,point meta min=-1,point meta max=1]
\cells{tri=7.97pt}{0}{0}{1,.65,.7,-.3,.65,.7,.7,.7,.72,.72,.75,.78,.78,.65,.65,.5,.65,.9,.8,-.15}
\cells{tri=7.97pt}{1}{1}{1,.9,-.35,.9,.9,.88,.88,.88,.9,.9,.85,.85,.6,.85,.65,.75,.55,.75,-.1}
\cells{tri=7.97pt}{2}{2}{1,-.35,.85,.85,.85,.85,.88,.92,.9,.85,.85,.6,.85,.65,.75,.6,.8,-.2}
\cells{tri=7.97pt}{3}{3}{1,-.3,-.4,-.3,-.3,-.25,-.3,-.25,-.3,-.2,-.2,-.03,-.2,-.35,-.25,-.2,-.35}
\cells{tri=7.97pt}{4}{4}{1,.9,.88,.9,.9,.9,.88,.85,.85,.6,.85,.65,.7,.6,.75,-.25}
\cells{tri=7.97pt}{5}{5}{1,.9,.88,.9,.9,.88,.85,.85,.6,.85,.65,.75,.65,.8,-.08}
\cells{tri=7.97pt}{6}{6}{1,.9,.9,.9,.9,.85,.85,.6,.85,.65,.75,.6,.8,-.15}
\cells{tri=7.97pt}{7}{7}{1,.9,.85,.9,.85,.85,.6,.85,.65,.75,.6,.8,-.15}
\cells{tri=7.97pt}{8}{8}{1,.9,.9,.85,.85,.6,.85,.65,.75,.65,.8,-.2}
\cells{tri=7.97pt}{9}{9}{1,.9,.85,.85,.6,.85,.65,.75,.6,.8,-.2}
\cells{tri=7.97pt}{10}{10}{1,.85,.85,.6,.8,.65,.75,.6,.75,-.25}
\cells{tri=7.97pt}{11}{11}{1,.85,.6,.85,.65,.75,.6,.85,-.2}
\cells{tri=7.97pt}{12}{12}{1,.6,.85,.65,.7,.6,.8,-.25}
\cells{tri=7.97pt}{13}{13}{1,.6,.45,.65,.6,.6,-.45}
\cells{tri=7.97pt}{14}{14}{1,.7,.75,.55,.75,-.25}
\cells{tri=7.97pt}{15}{15}{1,.65,.5,.65,-.1}
\cells{tri=7.97pt}{16}{16}{1,.6,.7,-.2}
\cells{tri=7.97pt}{17}{17}{1,.8,-.2}
\cells{tri=7.97pt}{18}{18}{1,-.12}
\cells{tri=7.97pt}{19}{19}{1}
\addplot[only marks,mark=*,mark size=3.4pt,blue] coordinates {(-1,0)(0,1)(1,2)(2,3)(3,4)(4,5)(5,6)(6,7)(7,8)(8,9)(9,10)(10,11)(11,12)(12,13)(13,14)(14,15)(15,16)(16,17)(17,18)(18,19)};
\addplot[only marks,mark=*,mark size=1.5pt,red] coordinates {(-1,0)(0,1)(1,2)(2,3)(3,4)(4,5)(5,6)(6,7)(7,8)(8,9)(9,10)(10,11)(11,12)(12,13)(13,14)(14,15)(15,16)(16,17)(17,18)(18,19)};
\end{axis}
\foreach \i/\t in {0/Alcoholism,1/Base excision repair,2/Cell cycle,3/Cytokine cytokine receptor interaction,4/DNA replication,5/Fanconi anemia pathway,6/Homologous recombination,7/MicroRNAs in cancer,8/Mismatch repair,9/Nucleotide excision repair,10/Oocyte meiosis,11/p53 signaling pathway,12/Progesterone mediated oocyte maturation,13/Proteasome,14/Pyrimidine metabolism,15/RNA degradation,16/Spliceosome,17/Systemic lupus erythematosus,18/Viral carcinogenesis}{\tx{848.4}{496+16.53*(\i+.5)}{base west}{14.3}{\color{black!80}\t}}
\tx{848.4}{818}{base west}{14.3}{\bfseries 5mC Score}

% legends of D
\tx{1132}{518.3}{base west}{15.3}{\color{black!80}Pearson's r}
\sw{1132}{533}{23}{98.7}{black!5}
\foreach \y/\w/\t in {545.7/5/0.25,570.3/8/0.50,595/10/0.75,619.3/12/1.00}{\Ln{1134}{\y}{1153.6}{\y}{black!70,line width=\w pt}\tx{1163}{\y}{base west}{12.3}{\color{black!70}\t}}
\tx{1132}{671}{base west}{15.3}{\color{black!80}P Value}
\sw{1132}{686.7}{23}{97.3}{black!5}
\foreach \y/\c/\t in {698.7/grn/< 0.001,723.3/org/< 0.05,747.7/prp/Not Applicable,772.3/pnk/ns}{\sw{1134}{\y-6}{19.6}{12}{\c}\tx{1163}{\y}{base west}{12.3}{\color{black!70}\t}}
\tx{1270.7}{564}{base west}{15.4}{\color{black!80}Pearson's r}
\cbar{1270}{702.3}{cmPb}{-.83}{1}{colorbar/width=24.3pt,colorbar style={at={(parent axis.south west)},anchor=south west,xshift=-8.536pt,
  scale only axis,width=24.3pt,height=122.3pt,ytick={-.5,0,.5,1},yticklabels={-0.5,0.0,0.5,1.0},
  yticklabel style={font=\fs{12.5},text=black!65,anchor=west,xshift=3pt},tick style={draw=none},axis line style={draw=none}}}

% ---------- E
\begin{axis}[box={91}{1072.4}{563.8}{562.8},xmin=-.5,xmax=20.5,ymin=-.5,ymax=20.5,y dir=reverse,hide axis,clip=false,
  colormap name=cmE,point meta min=-1,point meta max=1,
  /pgf/number format/fixed,/pgf/number format/precision=2,/pgf/number format/assume math mode=true]
\newcommand\erow[2]{\cells{gridE}{0}{#1}{#2}\cells{bub}{0}{#1}{#2}\cells{lab}{0}{#1}{#2}}
\erow{0}{1}
\erow{1}{.42,1}
\erow{2}{.58,.67,1}
\erow{3}{.47,.79,.75,1}
\erow{4}{.73,.75,.84,.68,1}
\erow{5}{.52,.84,.96,.75,.79,1}
\erow{6}{.85,.58,.78,.55,.8,.69,1}
\erow{7}{.79,.69,.81,.65,.95,.76,.85,1}
\erow{8}{.38,.56,.55,.7,.51,.56,.4,.51,1}
\erow{9}{.29,.82,.8,.65,.63,.8,.43,.58,.51,1}
\erow{10}{.03,.1,.05,.38,.12,.15,-.01,.1,.52,.13,1}
\erow{11}{.1,.41,.32,.6,.29,.36,.2,.29,.64,.33,.52,1}
\erow{12}{.46,.1,.34,.1,.38,.36,.51,.42,.31,.1,.04,.03,1}
\erow{13}{.04,.02,-.1,.01,-.13,-.1,.06,-.15,.01,-.12,-.2,-.12,-.2,1}
\erow{14}{.23,.13,.12,.23,.09,.15,.13,.06,.05,.08,.02,.07,.14,.04,1}
\erow{15}{.07,.39,.33,.29,.45,.36,.09,.32,.23,.42,.02,.13,.06,-.17,.01,1}
\erow{16}{.58,.75,.75,.64,.89,.74,.63,.84,.57,.64,.1,.34,.28,-.14,.05,.48,1}
\erow{17}{-.1,.03,-.15,-.2,-.07,.03,-.18,.01,-.2,-.07,-.06,-.13,-.02,-.08,.03,.03,-.09,1}
\erow{18}{.49,.38,.33,.3,.41,.33,.5,.45,.46,-.1,.23,.15,.54,-.2,.12,-.05,.28,.06,1}
\erow{19}{.05,-.06,.09,-.08,-.08,.26,-.01,-.02,-.1,-.08,-.03,-.06,.23,-.15,-.09,-.1,-.1,.04,.1,1}
\erow{20}{-.7,-.49,-.58,-.48,-.7,-.49,-.8,-.77,-.34,-.34,-.2,-.2,-.42,-.13,-.17,-.05,-.53,-.1,-.34,.05,1}
\end{axis}
\foreach \i/\t in {0/CD274,1/PDCD1,2/CTLA4,3/LAG3,4/HAVCR2,5/TIGIT,6/CD80,7/CD86,8/ADORA2A,9/BTLA,10/CD200,11/CD200R1,12/CD276,13/CEACAM1,14/IDO1,15/KIR3DL1,16/LAIR1,17/LGALS3,18/PVR,19/VTCN1}{\tx{89}{1072.4+26.8*(\i+.38)}{base east}{14.5}{\color{black!70}\t}}
\tx{92}{1618}{base east}{14.5}{\bfseries 5mC Score}
\foreach \i/\x/\t in {0/222/CD274,1/283/PDCD1,2/345/CTLA4,3/411/LAG3,4/463/HAVCR2,5/535/TIGIT,6/597/CD80,7/658/CD86,8/707/ADORA2A,9/782/BTLA,10/840/CD200,11/893/CD200R1,12/963/CD276,13/1015/CEACAM1,14/1092/IDO1,15/1143/KIR3DL1,16/1213/LAIR1,17/1267/LGALS3,18/1340/PVR,19/1395/VTCN1}{\tx{\x/2.306}{1065+26.8*\i}{base west}{14.5}{\color{black!70}\t}}
\cbar{91}{1666.9}{cmE}{-1}{1}{colorbar horizontal,colorbar/width=21.5pt,colorbar style={at={(parent axis.south west)},anchor=south west,yshift=8.536pt,
  scale only axis,width=563.8pt,height=21.5pt,xtick={-1,-.8,-.6,-.4,-.2,0,.2,.4,.6,.8,1},xticklabels={-1.0,-0.8,-0.6,-0.4,-0.2,0,0.2,0.4,0.6,0.8,1.0},
  xticklabel style={font=\fs{17},text=black!70,yshift=-7.5pt},xtick pos=bottom,tick align=outside,major tick length=3pt,tick style={black,line width=1pt},
  axis line style={line width=1.2pt}}}

% ---------- F
\sw{528}{971.7}{111}{269}{tPur}
\sw{639}{918.3}{749}{53.4}{tHead}
\sw{639}{971.7}{749}{269}{tCell}
\foreach \y in {1022.3,1057.7,1095}{\Ln{528}{\y}{639}{\y}{white!70!tPur,line width=1pt}\Ln{639}{\y}{1388}{\y}{black!50!tCell,line width=1.2pt}}
\foreach \x in {735,851.5,965,1070.6,1223.4,1276.7}{\Ln{\x}{918.3}{\x}{971.7}{white!25!tHead,line width=.6pt}\Ln{\x}{971.7}{\x}{1240.7}{black!60!tCell,line width=1.2pt}}
\Ln{528}{971.7}{1388}{971.7}{black!70,line width=1.3pt}
\Ln{639}{1175}{1388}{1175}{black!70,line width=1.3pt}
\Ln{639}{971.7}{639}{1240.7}{black!70,line width=1pt}
\Ln{528}{1240.7}{1388}{1240.7}{black!45,line width=1.2pt}
\Ln{528}{971.7}{528}{1240.7}{black!40,line width=1pt}
\Ln{639}{918.3}{1388}{918.3}{black!40,line width=1pt}
\Ln{1388}{918.3}{1388}{1240.7}{black!40,line width=1pt}
\foreach \x/\t in {687/TIMER,793.2/{CIBERSORT-\\ABS},908.2/CIBERSORT,1017.8/quanTIseq,1147/xCell,1250/EPIC,1332.3/MCP-counter}{\node[align=center,inner sep=0pt,font=\ser\bfseries\fontsize{16}{21}\selectfont,text=tPur] at ({\x*1pt},{1726pt-945pt}) {\t};}
\foreach \y/\t in {997/CD8 + T\_cell,1040/NK\_cell,1076.3/Th1\_cell,1135/Dendritic\_cell,1208/Macrophage}{\node[anchor=base west,inner sep=0pt,font=\ser\bfseries\fs{16},text=white] at (535pt,{1726pt-(\y+5)*1pt}) {\t};}
\tc{687}{997}{-0.41}\tc{793.2}{997}{-0.28}\tc{908.2}{997}{NS}\tc{1017.8}{997}{-0.49}\tc{1147}{997}{Tcm\_CD8: -0.34;\\Tem\_CD8: -0.30}\tc{1250}{997}{NS}\tc{1332.3}{997}{-0.28}
\tc{687}{1040}{Null}\tc{793.2}{1040}{-0.47}\tc{908.2}{1040}{-0.29}\tc{1017.8}{1040}{NS}\tc{1147}{1040}{NS}\tc{1250}{1040}{-0.53}\tc{1332.3}{1040}{-0.49}
\tc{687}{1076.3}{Null}\tc{793.2}{1076.3}{Null}\tc{908.2}{1076.3}{Null}\tc{1017.8}{1076.3}{Null}\tc{1147}{1076.3}{NS}\tc{1250}{1076.3}{Null}\tc{1332.3}{1076.3}{Null}
\tc{687}{1135}{Myeloid DC: -\\0.63}\tc{793.2}{1135}{Resting DC: NS;\\Activated DC:\\NS}\tc{908.2}{1135}{Resting DC: NS;\\Activated DC:\\NS}\tc{1017.8}{1135}{Myeloid DC:\\0.29}\tc{1147}{1135}{Activated DC: -0.69;\\Myeloid DC: -0.54;\\Plasmacytoid DC: -0.67}\tc{1250}{1135}{Null}\tc{1332.3}{1135}{Myeloid DC: -\\0.43}
\tc{687}{1208}{-0.22}\tc{793.2}{1208}{M0: -0.57;\\M1: -0.68;\\M2: -0.60}\tc{908.2}{1208}{M0: -0.52;\\M1: -059;\\M2: NS}\tc{1017.8}{1208}{M1: -0.71;\\M2: -0.33}\tc{1147}{1208}{M0: -0.61;\\M1: -0.68;\\M2: NS}\tc{1250}{1208}{-0.59}\tc{1332.3}{1208}{-0.61}

% ---------- G
\begin{axis}[box={695.7}{1316}{224.1}{39.7},xmin=-27.2,xmax=15.3,ymin=0,ymax=6.37,hide axis,clip=false]
\addplot[ybar interval,fill=magenta!45!gray!90,draw=black,line width=1.4pt] coordinates {(-25.7,1)(-24.4,.4)(-23.1,.4)(-21.8,.4)(-20.5,2)(-19.2,1)(-17.9,.5)(-16.6,1)(-15.3,1)(-14,.7)(-12.7,.7)(-11.4,.7)(-10.1,1)(-8.8,2)(-7.5,2)(-6.2,2)(-4.9,4)(-3.6,6)(-2.3,4)(-1,.8)(.3,2)(1.6,2)(2.9,3)(4.2,4)(5.5,4)(6.8,6)(8.1,4)(9.4,2)(10.7,2)(12,1.7)(13.3,1.7)};
\addplot[smooth,black,line width=1.8pt] coordinates {(-25.7,.65)(-20,.65)(-9.3,1.45)(-4.2,3.05)(-1,3.4)(.9,3.3)(4.7,3.6)(9.8,2.8)(13.9,1.6)};
\end{axis}
\begin{axis}[box={920}{1356.7}{44}{191},xmin=0,xmax=12.2,ymin=-9,ymax=381.7,hide axis,clip=false]
\addplot[xbar interval,fill=grn,draw=black,line width=1.4pt] coordinates {(3,6.7)(6,16.9)(12,27.2)(12,37.4)(12,47.6)(5,57.9)(6,68.1)(5,78.3)(4,88.5)(5,98.8)(3,109)(5,119.2)(3,129.5)(2,139.7)(3,149.9)(2,160.2)(2,170.4)(3,180.6)(1,190.8)(1,201.1)(1,211.3)(1,221.5)(1,231.8)(2,242)(1,252.2)(1,262.5)(1,272.7)(1,282.9)(1,293.1)(1,303.4)(1,313.6)(1,323.8)(1,334.1)(2,344.3)(2,354.5)(2,364.8)};
\addplot[smooth,black,line width=1.8pt] coordinates {(.8,20)(5.5,45)(6.5,70)(4,100)(2.2,150)(1,230)(.5,300)(.5,360)};
\end{axis}
\begin{axis}[box={695.7}{1356.7}{224.1}{191},xmin=-27.2,xmax=15.3,ymin=-9,ymax=381.7,
  axis line style={draw=black!65,line width=1.6pt},
  xtick={-20,-10,0,10},xticklabels={-20,-10,0,10},ytick={0,100,200,300},yticklabels={0,100,200,300},
  minor x tick num=1,minor y tick num=1,grid=both,major grid style={black!12,line width=.8pt},minor grid style={black!6,line width=.5pt},
  xtick pos=bottom,ytick pos=left,tick align=outside,major tick length=2.5pt,minor tick length=0pt,tick style={black!60},
  ticklabel style={font=\fs{14.3},text=black!70},
  xlabel={5mC Score},xlabel style={font=\fs{17}\bfseries,at={(axis description cs:.55,-.17)},anchor=center},
  ylabel={TIS},ylabel style={font=\fs{16}\bfseries,at={(axis description cs:-.182,.5)},anchor=center},
]
\addplot[fill=black!22,draw=none,opacity=.8,forget plot] coordinates {(-25.5,252)(-10,145)(0,112)(6,85)(13.4,75)(13.4,2)(5,55)(0,82)(-10,105)(-25.5,150)} -- cycle;
\addplot[only marks,mark=*,mark size=2.7pt,black!45,draw=none,forget plot] coordinates {(-25.5,245.6)(-11.9,201)(-18.2,187.6)(-19.2,144.6)(-15.7,139.8)(-5.4,152)(.5,189)(4.3,162.3)(5.9,162.3)(-.9,119.4)(-.7,120.7)(-12.6,79.8)(-7.8,75)(2.6,105.7)(5.7,92)(6.1,92)(-.9,64.8)(-3.1,58)(-3,47.7)(-4.3,43)(-2.8,37.5)(-2.3,30.7)(-10.4,39.6)(-7.8,32.7)(3,54.6)(4.7,53.2)(5.7,41)(7.6,37.5)(7.9,44.3)(9,37.5)(8.3,78.4)(5.5,23.9)(11.3,25.2)(12.5,25.2)(13.2,51)(-1.9,44.3)(0,99)(1,85)(1.9,95.5)};
\addplot[blue,line width=8.5pt,forget plot] coordinates {(-25.5,201)(13.4,37.5)};
\addplot[magenta!60!gray,line width=1.5pt,dash pattern=on 28pt off 24pt,forget plot] coordinates {(0,0)(0,345)};
\addplot[grn,line width=2pt,dash pattern=on 24pt off 24pt,forget plot] coordinates {(-27.2,97.84)(15.3,97.84)};
\node[draw=black,fill=white,rounded corners=2pt,line width=1.2pt,inner xsep=2.5pt,inner ysep=1.5pt,font=\fs{6.5}\bfseries] at (axis cs:0,233) {mean = 0.00};
\node[draw=black,fill=white,rounded corners=2pt,line width=1.2pt,inner xsep=2.5pt,inner ysep=1.5pt,font=\fs{6.5}\bfseries] at (axis cs:-7.6,95) {mean = 97.84};
\node[anchor=west,inner sep=0pt,font=\fs{13.7},text=black!70] at (axis cs:-25.5,354.5) {Pearson R = -0.51, P < 0.001};
\end{axis}

% ---------- H
\sw{1027}{1254}{42.7}{13.7}{grn}\sw{1072.2}{1254}{45.3}{13.7}{org}
\sw{1021}{1272.7}{4}{172.3}{orange!85!red}\sw{1021}{1448}{4}{28.7}{cDc}\sw{1021}{1480}{4}{86}{red!80!white}
\begin{axis}[box={1026.7}{1272.7}{44}{293.3},xmin=-.5,xmax=10.5,ymin=1272.7,ymax=1566,y dir=reverse,hide axis,clip=false,
  colormap name=cmH,point meta min=-1.39,point meta max=1.3]
\cells{hmH}{0}{1287}{.8,.2,.8,.3,.9,1,.4,.9,.2,.3,.1}
\cells{hmH}{0}{1315.7}{.9,1,.2,.1,.8,1,.4,1,.4,-.6,.6}
\cells{hmH}{0}{1344.4}{.8,.9,1.1,1,.7,1,.5,.9,.8,.8,.8}
\cells{hmH}{0}{1373.1}{.8,.8,.9,.7,.9,.8,.9,.8,.7,.7,.7}
\cells{hmH}{0}{1401.8}{1,-.8,.8,-.2,.9,.9,.4,1,-1.2,.5,.5}
\cells{hmH}{0}{1430.5}{-.3,1,-.3,.9,-.5,.1,.3,-.5,-.2,.1,.6}
\cells{hmH}{0}{1462.3}{.2,-.7,.5,-.8,-.9,.1,-.9,-.5,.3,-.9,.4}
\cells{hmH}{0}{1494.3}{-1.1,-1.1,-1,-1.3,-.9,-1.1,-.7,-1,-.5,-1.2,-1.1}
\cells{hmH}{0}{1523}{-.2,-1.2,-1.1,1,.8,-.5,-1.1,.9,-1.2,.8,-1.1}
\cells{hmH}{0}{1551.7}{-.1,-1,.8,.9,-1.2,-1.2,.7,-.9,1,-.7,-1}
\end{axis}
\begin{axis}[box={1073}{1272.7}{45}{293.3},xmin=-.5,xmax=10.5,ymin=1272.7,ymax=1566,y dir=reverse,hide axis,clip=false,
  colormap name=cmH,point meta min=-1.39,point meta max=1.3]
\cells{hmH}{0}{1287}{-1.2,.1,-1.2,-.3,-.8,-.3,.3,-1.39,-1.3,-1.39,-1.39}
\cells{hmH}{0}{1315.7}{-1.1,-.9,.5,-.8,-.7,-.1,-.1,.5,-.9,.4,-1.3}
\cells{hmH}{0}{1344.4}{-.7,.5,-1.2,-1.3,-1.2,-1.3,-1.3,-.9,-1.3,-1.39,-1.39}
\cells{hmH}{0}{1373.1}{-1.2,-1,-1.2,-.6,-1.3,-.8,-1,-1.3,-1.2,-1.39,-1.39}
\cells{hmH}{0}{1401.8}{.2,-1,-1.2,.3,.5,.2,.2,-.5,-.4,-1.3,-1}
\cells{hmH}{0}{1430.5}{.6,0,.5,.9,1.2,.4,0,.8,-1.3,-1.39,-1}
\cells{hmH}{0}{1462.3}{1.3,-.1,1.3,-.3,.6,1.2,.2,1,-.9,.8,-1}
\cells{hmH}{0}{1494.3}{.5,.6,.1,1,1.1,.8,1.1,.5,1.2,1.2,.6}
\cells{hmH}{0}{1523}{.6,-1,.9,-.9,.9,.2,-1.2,.7,-.4,-.5,.2}
\cells{hmH}{0}{1551.7}{.9,-1,1,1,.9,-.5,-.6,.5,-.7,-.4,0}
\end{axis}
\tx{1120.5}{1260.7}{base west}{17.2}{\bfseries 5mC Score}
\foreach \y/\t in {1284/WNT-β-catenin\_network,1312.7/FGFR3.coexpressed\_genes,1341.3/PPARG\_network,1370/IDH1,1399/VEGFA,1427.7/KDM6B,1459.3/EGFR\_ligands,1491/Hypoxia,1519.7/Cell\_cycle,1548.7/DNA\_replication}{\tx{1120.5}{\y}{base west}{14.7}{\color{black!80}\t}}
\cbar{1279}{1589.3}{cmH}{-1.81}{1.69}{colorbar/width=14.8pt,colorbar style={at={(parent axis.south west)},anchor=south west,xshift=-8.536pt,
  scale only axis,width=14.8pt,height=224.3pt,ytick={-1.5,-1,-.5,0,.5,1,1.5},yticklabels={-1.5,-1,-0.5,0,0.5,1,1.5},
  yticklabel style={font=\fs{19.7},text=black!85,anchor=west,xshift=3pt},tick style={draw=none},axis line style={draw=none}}}
\tx{1022.4}{1576.7}{base west}{14.5}{\bfseries 5mc Score}
\sw{1022.4}{1586.7}{18}{18.6}{grn}\sw{1022.4}{1605.3}{18}{18.7}{org}
\tx{1044.3}{1595.7}{base west}{14.5}{\color{black!80}High}\tx{1044.3}{1614.3}{base west}{14.5}{\color{black!80}Low}
\tx{1022.4}{1642.7}{base west}{14.5}{\bfseries Therapeutic\_target}
\sw{1022.4}{1652.3}{18}{18.7}{orange!85!red}\sw{1022.4}{1671}{18}{18.3}{cDc}\sw{1022.4}{1689.3}{18}{18.7}{red!80!white}
\tx{1044.3}{1661.7}{base west}{14.5}{\color{black!80}Immune\_inhibited\_oncogenic\_pathways}
\tx{1044.3}{1680}{base west}{14.5}{\color{black!80}EGFR\_network}
\tx{1044.3}{1699}{base west}{14.5}{\color{black!80}Radiotherapy\_predicted\_pathways}
\end{tikzpicture}
\end{document}
